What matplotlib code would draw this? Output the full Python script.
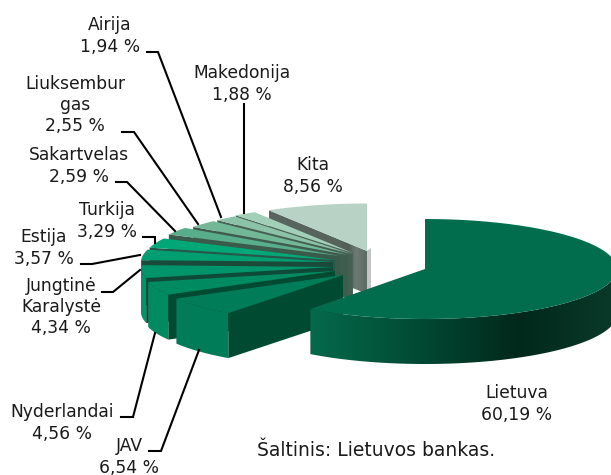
import numpy as np
import matplotlib
matplotlib.use('Agg')
import matplotlib.pyplot as plt
from matplotlib.colors import LinearSegmentedColormap
from matplotlib.patches import Polygon

# data, clockwise from 12 o'clock
names = ['Lietuva', 'JAV', 'Nyderlandai', 'Jungtinė\nKaralystė', 'Estija', 'Turkija',
         'Sakartvelas', 'Liuksembur\ngas', 'Airija', 'Makedonija', 'Kita']
shares = [60.19, 6.54, 4.56, 4.34, 3.57, 3.29, 2.59, 2.55, 1.94, 1.88, 8.56]

# style: colours and how far each slice is pulled out of the pie
top_colors = ['#026d4c', '#007c58', '#008a60', '#00946a', '#009e70', '#00a878',
              '#58ae8b', '#72b897', '#8cc3a8', '#a2cfb8', '#b8d3c5']
wall_colors = ['#02523a', '#004a31', '#004a31', '#0f4a38', '#1a4a3a', '#27564a',
               '#3a5a4c', '#3f5c4e', '#465f53', '#4c6358', '#5d6b63']
offset_x = [90, 8, 0, -2, -2, 0, 5, 13, 17, 18, 32]
offset_y = [7, 13, 9, 5, 0, -2, -6, -7, -8, -9, -11]
height_y = [50, 47.5, 47.5, 47.5, 47.5, 47.5, 47.5, 47.5, 47.5, 47.5, 47.5]
depth_y = [45, 45, 45, 45, 45, 45, 43, 43, 43, 43, 43]

cx, cy = 335, 262
rx = 192

label_x = [517, 129, 62, 61, 44, 107, 79, 75, 110, 242, 313]
label_y = [404, 457, 423, 307, 248, 221, 166, 105, 36, 84, 176]
leaders = [None,
           [(149, 451), (161, 451), (199, 350)],
           [(121, 417), (133, 417), (155, 333)],
           [(102, 292), (113, 292), (140, 270)],
           [(81, 264), (92, 264), (140, 255)],
           [(143, 237), (155, 237), (155, 243)],
           [(116, 182), (127, 182), (175, 231)],
           [(122, 132), (134, 132), (198, 224)],
           [(147, 52), (158, 52), (221, 217)],
           [(244, 104), (244, 213)],
           None]

rim_cmap = LinearSegmentedColormap.from_list(
    'rim', [(0, '#05694a'), (0.3, '#024f37'), (0.68, '#01281b'), (1, '#0a3a2a')])
grey_cmap = LinearSegmentedColormap.from_list(
    'grey', [(0, '#59665f'), (0.72, '#57645c'), (0.8, '#4f5d55'), (0.88, '#6e7a73'), (1, '#5b6a62')])

plt.rcParams['font.family'] = 'DejaVu Sans'
fig = plt.figure(figsize=(6.11, 4.75), dpi=100)
ax = fig.add_axes([0, 0, 1, 1])

edges = np.radians(np.concatenate([[0], np.cumsum(shares) * 360 / sum(shares)]))


def arc(i, a0, a1, n=60):
    t = np.linspace(a0, a1, n)
    return cx + offset_x[i] + rx * np.sin(t), cy + offset_y[i] - height_y[i] * np.cos(t)


def gradient_fill(xs, ys, cmap, z):
    # horizontal colour ramp clipped to a polygon
    poly = Polygon(np.c_[xs, ys], closed=True, fc='none', ec='none', transform=ax.transData)
    ax.add_patch(poly)
    ramp = np.linspace(0, 1, 256).reshape(1, -1)
    im = ax.imshow(ramp, cmap=cmap, aspect='auto', zorder=z,
                   extent=[min(xs), max(xs), max(ys), min(ys)], interpolation='bilinear')
    im.set_clip_path(poly)


def draw_slice(i):
    a0, a1 = edges[i], edges[i + 1]
    ax0, ay0 = cx + offset_x[i], cy + offset_y[i]
    depth = depth_y[i]
    z = 100 if i == 0 else 20 - i

    # outer rim, only the front half shows
    lo, hi = max(a0, np.pi / 2), min(a1, 1.5 * np.pi)
    if lo < hi:
        xs, ys = arc(i, lo, hi, 120)
        rim_x, rim_y = np.r_[xs, xs[::-1]], np.r_[ys, ys[::-1] + depth]
        if i == 0:
            gradient_fill(rim_x[::-1], rim_y[::-1], rim_cmap, z)
        else:
            ax.fill(rim_x, rim_y, color=top_colors[i], lw=0, zorder=z)

    # cut face on the counter-clockwise side
    if i > 0:
        ex, ey = arc(i, a0, a0, 1)
        wall_x = [ex[0], ax0, ax0, ex[0]]
        wall_y = [ey[0], ay0, ay0 + depth, ey[0] + depth]
        if i == len(shares) - 1:
            # soft shadow behind the back slice
            ax.fill([ax0 + 4, ax0, ax0, ax0 + 4], [ay0 - 3, ay0, ay0 + depth, ay0 + depth - 3],
                    color='#c4c4c4', lw=0, zorder=z - 1)
            gradient_fill(wall_x, wall_y, grey_cmap, z)
        else:
            ax.fill(wall_x, wall_y, color=wall_colors[i], lw=0, zorder=z)

    # top face
    xs, ys = arc(i, a0, a1)
    ax.fill(np.r_[ax0, xs], np.r_[ay0, ys], color=top_colors[i], lw=0, zorder=z + 0.5)


for i in range(len(shares)):
    draw_slice(i)

for i in range(len(shares)):
    value = f'{shares[i]:.2f}'.replace('.', ',') + ' %'
    ax.text(label_x[i], label_y[i], names[i] + '\n' + value, ha='center', va='center',
            fontsize=12.3, color='#1a1a1a', linespacing=1.22, zorder=200)
    if leaders[i]:
        lx, ly = zip(*leaders[i])
        ax.plot(lx, ly, color='black', lw=1.5, solid_joinstyle='miter', zorder=150)

ax.text(257, 451, 'Šaltinis: Lietuvos bankas.', ha='left', va='center',
        fontsize=13.5, color='#1a1a1a', zorder=200)

ax.set_xlim(0, 611)
ax.set_ylim(475, 0)
ax.axis('off')

fig.savefig('out.png', dpi=100)
